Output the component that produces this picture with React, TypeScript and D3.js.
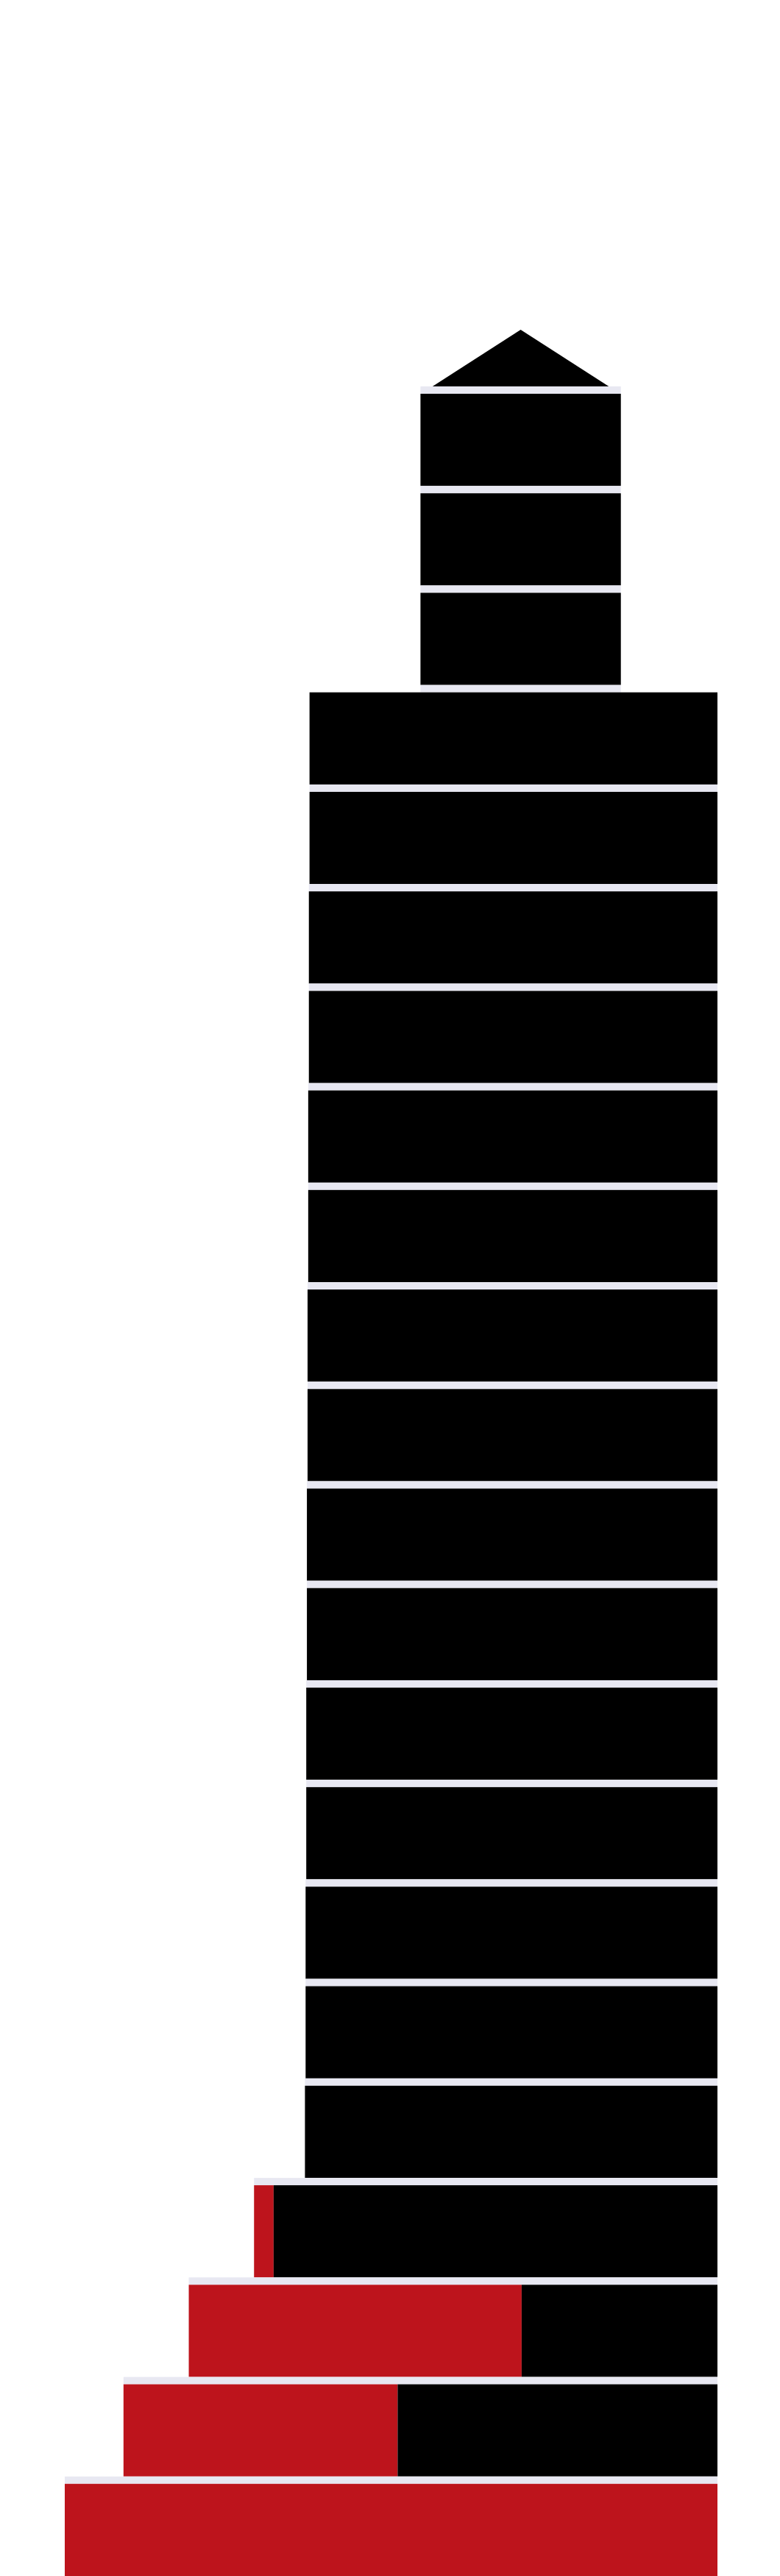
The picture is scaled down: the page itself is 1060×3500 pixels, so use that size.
import React from "react";
import * as d3 from "d3";

// floors, top to bottom
const floors = [
  "22", "21", "20", "19", "18", "17", "16", "15", "14", "13", "12",
  "11", "10", "9", "8", "7", "6", "5", "4", "3", "2", "1",
];

// red part of each floor (left side)
const redValues = [
  0, 0, 0, 0, 0, 0, 0, 0, 0, 0, 0,
  0, 0, 0, 0, 0, 0, 0, 3, 51, 42, 100,
];

// black part of each floor (right side)
const blackValues = [
  30.7, 30.7, 30.7, 62.5, 62.5, 62.6, 62.6, 62.7, 62.7, 62.8, 62.8,
  62.9, 62.9, 63, 63, 63.1, 63.1, 63.2, 68, 30, 49, 0,
];

// gap kept free on the right of the spire floors
const setbackValues = [
  14.8, 14.8, 14.8, 0, 0, 0, 0, 0, 0, 0, 0,
  0, 0, 0, 0, 0, 0, 0, 0, 0, 0, 0,
];

const roofWidth = 27;

const RED = "#bd141c";
const BLACK = "#000000";
const SEP = "#e8e8f2";

const width = 1060;
const height = 3500;
const sepH = 10;

export default function App() {
  const x = d3.scaleLinear().domain([0, 100]).range([975, 88]);
  const y = d3
    .scaleBand<string>()
    .domain(floors)
    .range([525, 3500])
    .paddingInner(0)
    .paddingOuter(0);

  const rows = floors.map((f, i) => {
    const s = setbackValues[i];
    const b = blackValues[i];
    const r = redValues[i];
    return {
      f,
      right: x(s),
      mid: x(s + b),
      left: x(s + b + r),
    };
  });

  // roof on top of the spire
  const top = rows[0];
  const cx = (top.left + top.right) / 2;
  const half = (x(0) - x(roofWidth)) / 2;
  const y0 = y(floors[0]) as number;
  const rise = y.step() * 0.57;
  const roof = d3.line()([
    [cx - half, y0],
    [cx, y0 - rise],
    [cx + half, y0],
  ]);

  return (
    <svg
      width={width}
      height={height}
      style={{ position: "absolute", left: 0, top: 0, background: "#fff" }}
    >
      <path d={roof + "Z"} fill={BLACK} />
      {rows.map((d, i) => {
        const yy = y(d.f) as number;
        // separator follows the spire width where the floor above is set back
        const ref = i > 0 && setbackValues[i - 1] > 0 ? rows[i - 1] : d;
        return (
          <g key={d.f}>
            <rect
              x={ref.left}
              y={yy}
              width={ref.right - ref.left}
              height={sepH}
              fill={SEP}
            />
            {d.left < d.mid && (
              <rect
                x={d.left}
                y={yy + sepH}
                width={d.mid - d.left}
                height={y.bandwidth() - sepH}
                fill={RED}
              />
            )}
            {d.mid < d.right && (
              <rect
                x={d.mid}
                y={yy + sepH}
                width={d.right - d.mid}
                height={y.bandwidth() - sepH}
                fill={BLACK}
              />
            )}
          </g>
        );
      })}
    </svg>
  );
}
